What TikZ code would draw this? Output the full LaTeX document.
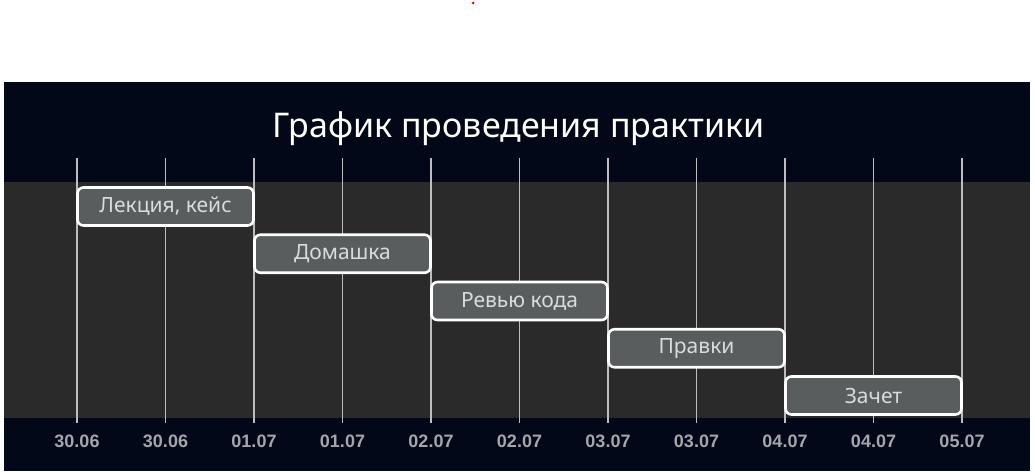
\documentclass[tikz,border=0pt]{standalone}
\usepackage{fontspec}
\setmainfont{Noto Sans}
\newfontfamily\tickfont{Liberation Sans}
\usetikzlibrary{positioning}

\definecolor{navybg}{HTML}{020817}
\definecolor{plotgray}{HTML}{2A2A2B}
\definecolor{barfill}{HTML}{5A5D5E}
\definecolor{gridgray}{HTML}{BEBEBE}
\definecolor{ticktext}{HTML}{A3A6AA}
\definecolor{bartext}{HTML}{D8DCDF}

\tikzset{
  taskbar/.style={draw=white, line width=2.6pt, fill=barfill, rounded corners=6pt,
    minimum width=176pt, minimum height=38pt, inner sep=0pt,
    text=bartext, font=\fontsize{21}{24}\selectfont},
  ticklabel/.style={text=ticktext, font=\tickfont\bfseries\fontsize{18}{20}\selectfont, inner sep=0pt},
  charttitle/.style={text=white, font=\fontsize{34}{38}\selectfont, inner sep=0pt},
}

\begin{document}
\begin{tikzpicture}[x=1pt, y=-1pt]

\useasboundingbox (0,0) rectangle (1035,471);

% Red mark at the top
\fill[red] (473,3) circle (1.5);

% Chart background
\fill[navybg] (4,82) rectangle (1030,471);

% Plot area
\fill[plotgray] (4,182) rectangle (1030,418);

% Title
\node[charttitle, anchor=base] (title) at (518.5,137) {График проведения практики};

% Grid lines
\foreach \i in {0,...,10}
  \draw[gridgray, line width=1.4pt] (77+88.5*\i,158) -- (77+88.5*\i,423);

% Axis labels
\foreach \lbl [count=\i from 0] in {30.06,30.06,01.07,01.07,02.07,02.07,03.07,03.07,04.07,04.07,05.07}
  \node[ticklabel, anchor=base] (tick\i) at (77+88.5*\i,447) {\lbl};

% Tasks
\node[taskbar] (lecture) at (165.5,206.5) {Лекция, кейс};
\node[taskbar] (homework) at (342.5,253.75) {Домашка};
\node[taskbar] (review) at (519.5,301) {Ревью кода};
\node[taskbar] (fixes) at (696.5,348.25) {Правки};
\node[taskbar] (exam) at (873.5,395.5) {Зачет};

\end{tikzpicture}
\end{document}
